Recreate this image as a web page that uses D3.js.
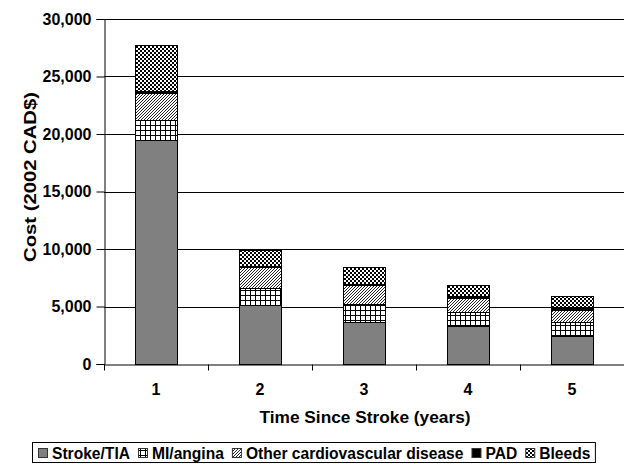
<!DOCTYPE html>
<html>
<head>
<meta charset="utf-8">
<script src="https://cdn.jsdelivr.net/npm/d3@7"></script>
<style>
    html, body { margin: 0; padding: 0; background: #fff; }
    #chart { width: 624px; height: 464px; }
    text { font-family: "Liberation Sans", Arial, sans-serif; font-weight: bold; fill: #000; }
</style>
</head>
<body>
<div id="chart"><svg></svg></div>
<script>
const years = ['1', '2', '3', '4', '5'];
const strokeTia = [19500, 5150, 3680, 3280, 2430];
const miAngina = [1700, 1430, 1540, 1220, 1240];
const otherCvd = [2350, 1880, 1650, 1270, 1020];
const pad = [170, 90, 90, 150, 290];
const bleeds = [4050, 1370, 1450, 960, 960];
const yTicks = [0, 5000, 10000, 15000, 20000, 25000, 30000];
const seriesNames = ['Stroke/TIA', 'MI/angina', 'Other cardiovascular disease', 'PAD', 'Bleeds'];

class ChartBox {
    constructor(el) {
        this.$el = el;
        this.svg = null;
        this.chartGroup = null;
        this.margin = { left: 104, right: 0, top: 19, bottom: 100 };
        this.fills = ['#808080', 'url(#p-grid)', 'url(#p-hatch)', '#000', 'url(#p-check)'];
        this.init();
    }
    init() {
        this.renderSvg();
        this.renderPatterns();
        this.calcScales();
        this.renderGrid();
        this.renderBars();
        this.renderAxis();
        this.renderLegend();
    }
    renderSvg() {
        this.realW = this.$el.clientWidth;
        this.realH = this.$el.clientHeight;
        this.svg = d3.select(this.$el).select('svg')
            .attr('width', this.realW)
            .attr('height', this.realH);
        this.chartGroup = this.svg.append('g').attr('class', 'chart-source-group');
    }
    renderPatterns() {
        let defs = this.svg.append('defs');
        // MI/angina grid
        let grid = defs.append('pattern').attr('id', 'p-grid')
            .attr('patternUnits', 'userSpaceOnUse').attr('width', 5).attr('height', 5);
        grid.append('rect').attr('width', 5).attr('height', 5).attr('fill', '#fff');
        grid.append('path').attr('d', 'M0.5 0V5M0 0.5H5').attr('stroke', '#000').attr('stroke-width', 1);
        // other cvd fine hatch
        let hatch = defs.append('pattern').attr('id', 'p-hatch')
            .attr('patternUnits', 'userSpaceOnUse').attr('width', 3).attr('height', 3);
        hatch.append('rect').attr('width', 3).attr('height', 3).attr('fill', '#fff');
        hatch.append('path').attr('d', 'M-1 1L1 -1M0 3L3 0M2 4L4 2')
            .attr('stroke', '#222').attr('stroke-width', 1);
        // bleeds checkerboard
        let check = defs.append('pattern').attr('id', 'p-check')
            .attr('patternUnits', 'userSpaceOnUse').attr('width', 4).attr('height', 4);
        check.append('rect').attr('width', 4).attr('height', 4).attr('fill', '#000');
        check.append('rect').attr('width', 2).attr('height', 2).attr('fill', '#fff');
        check.append('rect').attr('x', 2).attr('y', 2).attr('width', 2).attr('height', 2).attr('fill', '#fff');
    }
    calcScales() {
        let m = this.margin;
        this.plotB = this.realH - m.bottom;
        this.x = d3.scaleBand().domain(years)
            .range([m.left, this.realW - m.right])
            .paddingInner(0.6).paddingOuter(0.3);
        this.xEdge = d3.scaleLinear().domain([0, years.length])
            .range([m.left, this.realW - m.right]);
        this.y = d3.scaleLinear().domain([0, 30000]).range([this.plotB, m.top]);
    }
    renderGrid() {
        this.chartGroup.append('g').selectAll('line')
            .data(yTicks.slice(1))
            .join('line')
            .attr('x1', this.margin.left).attr('x2', this.realW - this.margin.right)
            .attr('y1', d => Math.round(this.y(d)) + 0.5).attr('y2', d => Math.round(this.y(d)) + 0.5)
            .attr('stroke', '#000').attr('stroke-width', 1);
    }
    renderBars() {
        let rows = years.map((yr, i) => ({
            year: yr, s0: strokeTia[i], s1: miAngina[i], s2: otherCvd[i], s3: pad[i], s4: bleeds[i]
        }));
        let stack = d3.stack().keys(['s0', 's1', 's2', 's3', 's4'])(rows);
        this.chartGroup.append('g').selectAll('g')
            .data(stack)
            .join('g')
            .attr('fill', (d, i) => this.fills[i])
            .selectAll('rect')
            .data(d => d)
            .join('rect')
            .attr('x', d => Math.round(this.x(d.data.year)) + 0.5)
            .attr('width', Math.round(this.x.bandwidth()))
            .attr('y', d => Math.round(this.y(d[1])) + 0.5)
            .attr('height', d => Math.round(this.y(d[0])) - Math.round(this.y(d[1])))
            .attr('stroke', '#000').attr('stroke-width', 1);
    }
    renderAxis() {
        let yAxis = d3.axisLeft(this.y).tickValues(yTicks)
            .tickFormat(d3.format(',')).tickSize(8).tickPadding(5);
        let gy = this.chartGroup.append('g')
            .attr('transform', `translate(${this.margin.left + 0.5},0)`)
            .call(yAxis);
        gy.selectAll('text').style('font-size', '16px');
        gy.selectAll('line, path').attr('stroke', '#000');

        let gx = this.chartGroup.append('g')
            .attr('transform', `translate(0,${this.plotB + 0.5})`)
            .call(d3.axisBottom(this.xEdge).ticks(years.length).tickFormat('').tickSize(6).tickSizeOuter(0));
        gx.selectAll('line, path').attr('stroke', '#000');

        let gl = this.chartGroup.append('g')
            .attr('transform', `translate(0,${this.plotB})`)
            .call(d3.axisBottom(this.x).tickSize(0).tickPadding(20));
        gl.select('.domain').remove();
        gl.selectAll('text').style('font-size', '16px');

        this.chartGroup.append('text')
            .attr('x', (this.margin.left + this.realW) / 2 + 1)
            .attr('y', 423)
            .attr('text-anchor', 'middle')
            .style('font-size', '16px')
            .attr('textLength', 211).attr('lengthAdjust', 'spacingAndGlyphs')
            .text('Time Since Stroke (years)');

        this.chartGroup.append('text')
            .attr('transform', `translate(36,${(92 + 262) / 2}) rotate(-90)`)
            .attr('text-anchor', 'middle')
            .style('font-size', '16px')
            .attr('textLength', 170).attr('lengthAdjust', 'spacingAndGlyphs')
            .text('Cost (2002 CAD$)');
    }
    renderLegend() {
        let lg = this.svg.append('g').attr('class', 'legend');
        let box = lg.append('rect')
            .attr('x', 32.5).attr('y', 442.5).attr('height', 20)
            .attr('fill', '#fff').attr('stroke', '#000').attr('stroke-width', 1);
        let cx = 38;
        seriesNames.forEach((name, i) => {
            lg.append('rect')
                .attr('x', cx + 0.5).attr('y', 448.5).attr('width', 9).attr('height', 9)
                .attr('fill', this.fills[i]).attr('stroke', '#333').attr('stroke-width', 1);
            let t = lg.append('text')
                .attr('x', cx + 14).attr('y', 458.5)
                .style('font-size', '15.6px')
                .text(name);
            cx += 14 + t.node().getComputedTextLength() + 8;
        });
        box.attr('width', cx - 8 + 5 - 32.5);
    }
}

new ChartBox(document.getElementById('chart'));
</script>
</body>
</html>
